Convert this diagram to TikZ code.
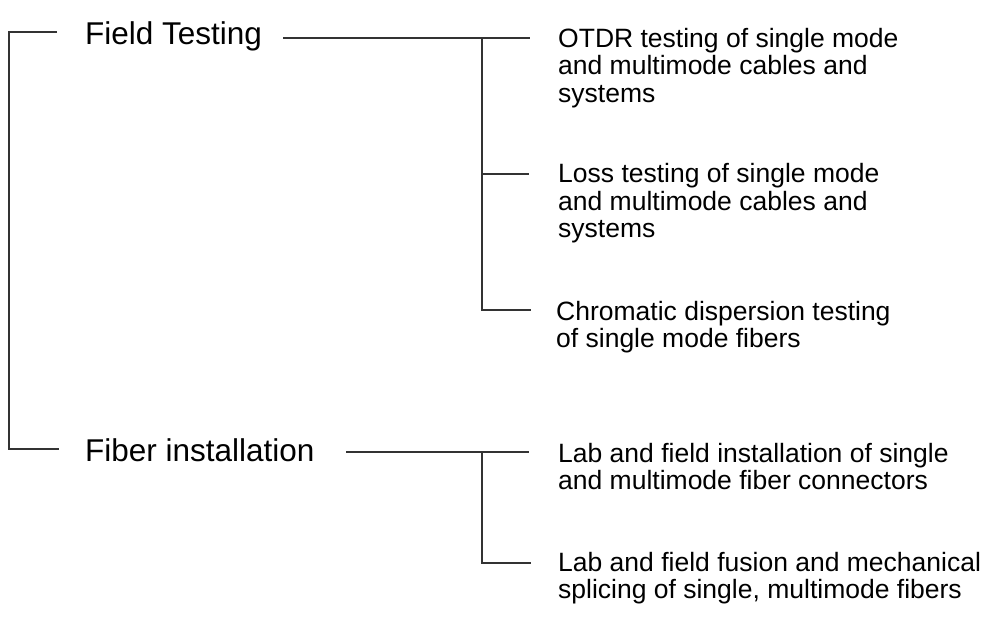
\documentclass[tikz,border=0pt]{standalone}
\usepackage{fontspec}
\setmainfont{Liberation Sans}
\newcommand\stack[1]{\begin{tabular}[t]{@{}l@{}}#1\end{tabular}}
\begin{document}
\begin{tikzpicture}[x=1pt,y=-1pt,
  branch/.style={draw=black!80, line width=1.3pt},
  topic/.style={anchor=base west, inner sep=0pt, font=\fontsize{31.5}{36}\selectfont},
  item/.style={anchor=base west, inner sep=0pt, font=\fontsize{26.5}{27.5}\selectfont}]
\useasboundingbox (0,0) rectangle (1005,618);

% headings
\node[topic] (field) at (85,45) {Field Testing};
\node[topic] (fiber) at (85,461) {Fiber installation};

% leaf items
\node[item] (otdr)  at (558,47.5)  {\stack{OTDR testing of single mode\\and multimode cables and\\systems}};
\node[item] (loss)  at (558,182.5) {\stack{Loss testing of single mode\\and multimode cables and\\systems}};
\node[item] (chrom) at (556,320)   {\stack{Chromatic dispersion testing\\of single mode fibers}};
\node[item] (conn)  at (558,462)   {\stack{Lab and field installation of single\\and multimode fiber connectors}};
\node[item] (splice) at (558,571)  {\stack{Lab and field fusion and mechanical\\splicing of single, multimode fibers}};

% tree joints and line ends
\coordinate (rtop) at (9,32);
\coordinate (rbot) at (9,449);
\coordinate (rtopend) at (57,32);
\coordinate (rbotend) at (59,449);
\coordinate (fstart) at (283,38);
\coordinate (fj1) at (482,38);
\coordinate (fj2) at (482,174);
\coordinate (fj3) at (482,310);
\coordinate (fe1) at (530,38);
\coordinate (fe2) at (529,174);
\coordinate (fe3) at (531,310);
\coordinate (istart) at (346,452);
\coordinate (ij1) at (482,452);
\coordinate (ij2) at (482,563);
\coordinate (ie1) at (529,452);
\coordinate (ie2) at (531,563);

% root bracket
\draw[branch] (rtopend) -- (rtop) -- (rbot) -- (rbotend);
% field testing branch
\draw[branch] (fstart) -- (fe1);
\draw[branch] (fj1) -- (fj3) -- (fe3);
\draw[branch] (fj2) -- (fe2);
% fiber installation branch
\draw[branch] (istart) -- (ie1);
\draw[branch] (ij1) -- (ij2) -- (ie2);
\end{tikzpicture}
\end{document}
